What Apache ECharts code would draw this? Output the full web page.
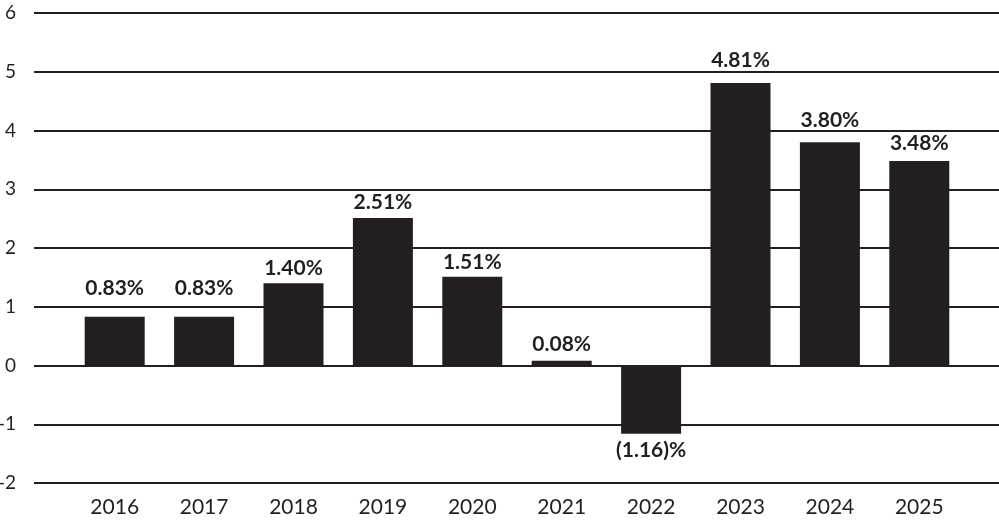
<!DOCTYPE html>
<html><head><meta charset="utf-8">
<script src="https://cdn.jsdelivr.net/npm/echarts@6/dist/echarts.min.js"></script>
<style>html,body{margin:0;padding:0;background:#fff}#c{width:999px;height:522px}</style>
</head><body><div id="c"></div>
<script>
const categories = ['2016','2017','2018','2019','2020','2021','2022','2023','2024','2025'];
const values = [0.83, 0.83, 1.40, 2.51, 1.51, 0.08, -1.16, 4.81, 3.80, 3.48];
const yTicks = [-2, -1, 0, 1, 2, 3, 4, 5, 6];
// label spacing (layout only) so labels clear the gridlines as in the original
const labelGaps = [18, 18, 5, 5, 4, 6, 6, 12, 12, 7];

const font = 'Lato, "DejaVu Sans", sans-serif';
const ink = '#231f20';
const chart = echarts.init(document.getElementById('c'));
chart.setOption({
  animation: false,
  grid: [
    {left: 34, right: 0, top: 13, bottom: 39, outerBoundsMode: 'none'},
    {left: 70, right: 35, top: 13, bottom: 39, outerBoundsMode: 'none'}
  ],
  xAxis: [
    {gridIndex: 0, type: 'value', show: false, min: 0, max: 1},
    {gridIndex: 1, type: 'category', data: categories,
     axisLine: {show: false}, axisTick: {show: false},
     axisLabel: {color: ink, fontSize: 21, fontFamily: font, margin: 14}}
  ],
  yAxis: [
    {gridIndex: 0, type: 'value', min: yTicks[0], max: yTicks[yTicks.length-1], interval: 1,
     axisLine: {show: false}, axisTick: {show: false},
     axisLabel: {color: ink, fontSize: 19, fontFamily: font, margin: 18, align: 'right'},
     splitLine: {lineStyle: {color: ink, width: 2}}},
    {gridIndex: 1, type: 'value', min: yTicks[0], max: yTicks[yTicks.length-1], interval: 1, show: false,
     splitLine: {show: false}}
  ],
  series: [{
    type: 'bar', xAxisIndex: 1, yAxisIndex: 1,
    data: values.map((v, i) => ({
      value: v,
      label: {position: v < 0 ? 'bottom' : 'top', distance: labelGaps[i]}
    })),
    barWidth: 60,
    itemStyle: {color: ink},
    label: {
      show: true, color: ink, fontSize: 21, fontWeight: 'bold', fontFamily: font,
      formatter: p => p.value < 0 ? '(' + Math.abs(p.value).toFixed(2) + ')%' : p.value.toFixed(2) + '%'
    }
  }]
});
</script></body></html>
